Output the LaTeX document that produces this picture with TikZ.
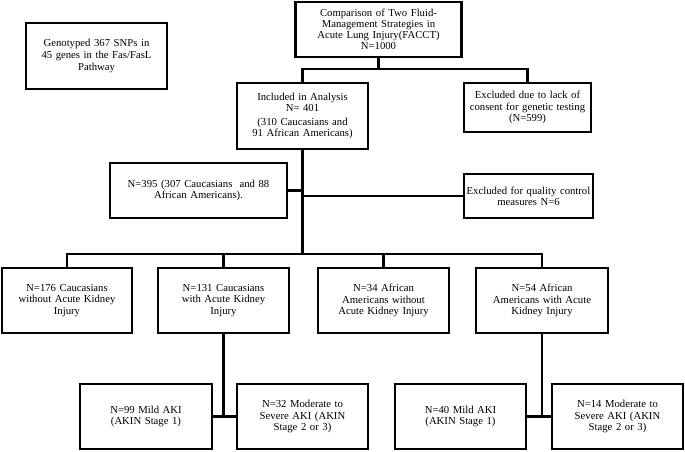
\documentclass[tikz,border=0pt]{standalone}
\usepackage{fontspec}
\setmainfont{Liberation Serif}
\begin{document}
\begin{tikzpicture}[x=1pt,y=-1pt,
  box/.style={draw=black, line width=2.7pt, align=center, inner sep=0pt, fill=white},
  conn/.style={draw=black, line width=2.1pt},
  connb/.style={draw=black, line width=2.9pt},
  fa/.style={font=\fontsize{10.7}{11.3}\selectfont},
  fg/.style={font=\fontsize{10.7}{11.7}\selectfont},
  ft/.style={font=\fontsize{10.7}{10.9}\selectfont}]
\useasboundingbox[fill=white] (0,0) rectangle (685,451);
% nodes
\node[box,fg,minimum width=141pt,minimum height=66pt,text width=137pt] (geno) at (96.5,56)
  {Genotyped 367 SNPs in\\45 genes in the Fas/FasL\\Pathway};
\node[box,ft,minimum width=166pt,minimum height=55pt,text width=162pt] (top) at (378.5,29.5)
  {Comparison of Two Fluid-\\Management Strategies in\\Acute Lung Injury(FACCT)\\N=1000};
\node[box,fa,minimum width=131pt,minimum height=66pt,text width=129pt] (incl) at (302.5,116)
  {Included in Analysis\\N= 401\\[2.5pt](310 Caucasians and\\91 African Americans)};
\node[box,fa,minimum width=127pt,minimum height=49pt,text width=125pt] (excl) at (527.5,107.5)
  {Excluded due to lack of\\consent for genetic testing\\(N=599)};
\node[box,fa,minimum width=177pt,minimum height=55pt,text width=173pt] (n395) at (198.5,190.5)
  {N=395 (307 Caucasians\ \ and 88\\African Americans).};
\node[box,fa,minimum width=129pt,minimum height=44pt,text width=127pt] (qc) at (528.5,196)
  {Excluded for quality control\\measures N=6};
\node[box,fa,minimum width=130pt,minimum height=65pt,text width=126pt] (r1) at (67,300.5)
  {N=176 Caucasians\\without Acute Kidney\\Injury};
\node[box,fa,minimum width=131pt,minimum height=65pt,text width=127pt] (r2) at (223.5,300.5)
  {N=131 Caucasians\\with Acute Kidney\\Injury};
\node[box,fa,minimum width=131pt,minimum height=65pt,text width=127pt] (r3) at (383.5,300.5)
  {N=34 African\\Americans without\\Acute Kidney Injury};
\node[box,fa,minimum width=132pt,minimum height=65pt,text width=128pt] (r4) at (542,300.5)
  {N=54 African\\Americans with Acute\\Kidney Injury};
\node[box,fa,minimum width=132pt,minimum height=65pt,text width=128pt] (b1) at (146,416.5)
  {N=99 Mild AKI\\(AKIN Stage 1)};
\node[box,fa,minimum width=131pt,minimum height=65pt,text width=127pt] (b2) at (302.5,416.5)
  {N=32 Moderate to\\Severe AKI (AKIN\\Stage 2 or 3)};
\node[box,fa,minimum width=131pt,minimum height=65pt,text width=127pt] (b3) at (460.5,416.5)
  {N=40 Mild AKI\\(AKIN Stage 1)};
\node[box,fa,minimum width=131pt,minimum height=65pt,text width=127pt] (b4) at (617.5,416.5)
  {N=14 Moderate to\\Severe AKI (AKIN\\Stage 2 or 3)};
% junctions
\coordinate (j1) at (378.5,69);
\coordinate (j2) at (302.5,254);
% connectors
\path[conn] (top.south) -- (j1);
\path[conn] (incl.north) |- (j1) -| (excl.north);
\path[conn] (incl.south) -- (j2);
\path[conn] (n395.east) -- (n395.east -| j2);
\path[conn] (qc.west) -- (qc.west -| j2);
\path[conn] (r1.north) |- (r4.north |- j2) -- (r4.north);
\path[conn] (r2.north) -- (r2.north |- j2);
\path[conn] (r3.north) -- (r3.north |- j2);
\path[conn] (r2.south) -- (r2.south |- b1.east);
\path[connb] (b1.east) -- (b2.west);
\path[conn] (r4.south) -- (r4.south |- b3.east);
\path[connb] (b3.east) -- (b4.west);
\end{tikzpicture}
\end{document}
